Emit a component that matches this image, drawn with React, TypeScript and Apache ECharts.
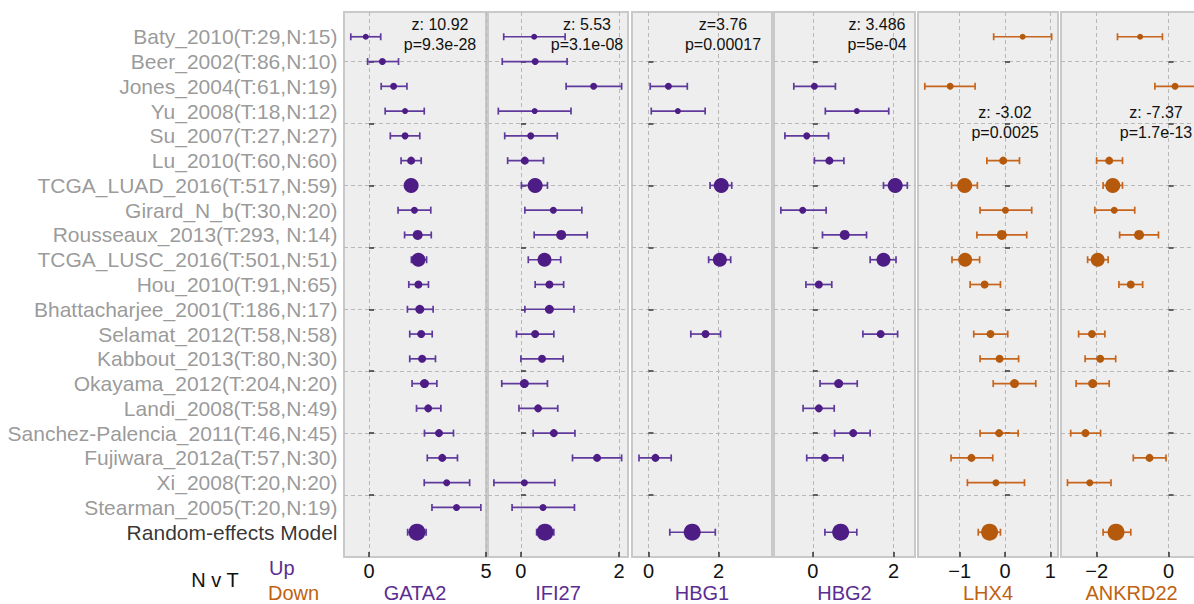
import React, { useEffect, useRef } from 'react';
import * as echarts from 'echarts';

const studies = [
  'Baty_2010(T:29,N:15)', 'Beer_2002(T:86,N:10)', 'Jones_2004(T:61,N:19)', 'Yu_2008(T:18,N:12)',
  'Su_2007(T:27,N:27)', 'Lu_2010(T:60,N:60)', 'TCGA_LUAD_2016(T:517,N:59)', 'Girard_N_b(T:30,N:20)',
  'Rousseaux_2013(T:293, N:14)', 'TCGA_LUSC_2016(T:501,N:51)', 'Hou_2010(T:91,N:65)',
  'Bhattacharjee_2001(T:186,N:17)', 'Selamat_2012(T:58,N:58)', 'Kabbout_2013(T:80,N:30)',
  'Okayama_2012(T:204,N:20)', 'Landi_2008(T:58,N:49)', 'Sanchez-Palencia_2011(T:46,N:45)',
  'Fujiwara_2012a(T:57,N:30)', 'Xi_2008(T:20,N:20)', 'Stearman_2005(T:20,N:19)', 'Random-effects Model',
];
const markerSizes = [6, 7, 7, 6, 7, 8, 15, 7, 10, 14, 8, 9, 8, 8, 9, 8, 8, 8, 7, 7, 17];

const genes = ['GATA2', 'IFI27', 'HBG1', 'HBG2', 'LHX4', 'ANKRD22'];
const direction = ['up', 'up', 'up', 'up', 'down', 'down'];
const zTexts = ['z: 10.92', 'z: 5.53', 'z=3.76', 'z: 3.486', 'z: -3.02', 'z: -7.37'];
const pTexts = ['p=9.3e-28', 'p=3.1e-08', 'p=0.00017', 'p=5e-04', 'p=0.0025', 'p=1.7e-13'];
const xTicks = [[0, 5], [0, 2], [0, 2], [0, 2], [-1, 0, 1], [-2, 0]];
const xMin = [-1.07, -0.67, -0.47, -0.96, -1.92, -2.99];
const xMax = [5.0, 2.18, 3.53, 2.53, 1.17, 0.93];

const N = null;
const gata2Mean = [-0.14, 0.57, 1.05, 1.54, 1.54, 1.8, 1.8, 1.94, 2.08, 2.11, 2.11, 2.17, 2.23, 2.27, 2.37, 2.53, 2.99, 3.13, 3.32, 3.74, 2.05];
const gata2Lo = [-0.78, -0.06, 0.52, 0.69, 0.91, 1.37, 1.62, 1.24, 1.52, 1.81, 1.7, 1.64, 1.74, 1.74, 1.84, 2.03, 2.37, 2.49, 2.36, 2.69, 1.65];
const gata2Hi = [0.5, 1.26, 1.62, 2.36, 2.17, 2.23, 2.0, 2.64, 2.66, 2.46, 2.54, 2.74, 2.7, 2.84, 2.9, 3.07, 3.61, 3.78, 4.3, 4.78, 2.44];

const ifi27Mean = [0.27, 0.29, 1.48, 0.28, 0.2, 0.08, 0.29, 0.66, 0.82, 0.48, 0.58, 0.58, 0.29, 0.43, 0.07, 0.35, 0.67, 1.55, 0.07, 0.45, 0.49];
const ifi27Lo = [-0.35, -0.38, 0.92, -0.46, -0.33, -0.27, 0.01, 0.08, 0.27, 0.15, 0.29, 0.08, -0.09, 0.0, -0.39, -0.04, 0.25, 1.05, -0.55, -0.18, 0.32];
const ifi27Hi = [0.9, 0.94, 2.05, 1.02, 0.74, 0.46, 0.54, 1.24, 1.35, 0.81, 0.87, 1.08, 0.67, 0.86, 0.54, 0.75, 1.1, 2.05, 0.69, 1.09, 0.67];

const hbg1Mean = [N, N, 0.57, 0.84, N, N, 2.08, N, N, 2.04, N, N, 1.63, N, N, N, N, 0.2, N, N, 1.25];
const hbg1Lo = [N, N, 0.05, 0.08, N, N, 1.76, N, N, 1.72, N, N, 1.21, N, N, N, N, -0.27, N, N, 0.61];
const hbg1Hi = [N, N, 1.11, 1.62, N, N, 2.38, N, N, 2.35, N, N, 2.06, N, N, N, N, 0.65, N, N, 1.91];

const hbg2Mean = [N, N, 0.04, 1.09, -0.15, 0.41, 2.04, -0.25, 0.79, 1.75, 0.15, N, 1.68, N, 0.64, 0.15, 1.0, 0.3, N, N, 0.69];
const hbg2Lo = [N, N, -0.47, 0.31, -0.69, 0.04, 1.75, -0.79, 0.24, 1.42, -0.17, N, 1.24, N, 0.18, -0.24, 0.54, -0.15, N, N, 0.3];
const hbg2Hi = [N, N, 0.56, 1.88, 0.39, 0.77, 2.34, 0.33, 1.33, 2.06, 0.47, N, 2.1, N, 1.1, 0.53, 1.42, 0.75, N, N, 1.09];

const lhx4Mean = [0.39, N, -1.21, N, N, -0.04, -0.89, 0.01, -0.07, -0.88, -0.45, N, -0.32, -0.12, 0.21, N, -0.13, -0.74, -0.2, N, -0.34];
const lhx4Lo = [-0.25, N, -1.77, N, N, -0.4, -1.18, -0.55, -0.62, -1.17, -0.77, N, -0.69, -0.55, -0.26, N, -0.55, -1.19, -0.83, N, -0.59];
const lhx4Hi = [1.03, N, -0.66, N, N, 0.32, -0.61, 0.59, 0.48, -0.56, -0.1, N, 0.06, 0.3, 0.68, N, 0.29, -0.27, 0.43, N, -0.1];

const ankrd22Mean = [-0.79, N, 0.18, N, N, -1.65, -1.55, -1.51, -0.82, -1.97, -1.05, N, -2.13, -1.9, -2.11, N, -2.31, -0.53, -2.19, N, -1.46];
const ankrd22Lo = [-1.42, N, -0.38, N, N, -2.0, -1.82, -2.05, -1.36, -2.25, -1.38, N, -2.5, -2.32, -2.57, N, -2.72, -0.98, -2.81, N, -1.82];
const ankrd22Hi = [-0.17, N, 0.75, N, N, -1.28, -1.28, -0.94, -0.28, -1.68, -0.72, N, -1.77, -1.47, -1.65, N, -1.89, -0.07, -1.6, N, -1.05];

const means = [gata2Mean, ifi27Mean, hbg1Mean, hbg2Mean, lhx4Mean, ankrd22Mean];
const los = [gata2Lo, ifi27Lo, hbg1Lo, hbg2Lo, lhx4Lo, ankrd22Lo];
const his = [gata2Hi, ifi27Hi, hbg1Hi, hbg2Hi, lhx4Hi, ankrd22Hi];

// layout
const gridLeft = [344, 488, 632, 774, 918, 1061];
const gridWidth = [142, 140, 140, 141, 140, 141];
const gridTop = 12;
const gridHeight = 545;
const statX = [440, 587, 723, 877, 1005, 1156];
const statY = [[24, 44], [24, 44], [24, 44], [24, 44], [112, 132], [112, 132]];

const FONT = '"Liberation Sans", Arial, Helvetica, sans-serif';
const colors = {
  up: { bar: '#5f3a9c', dot: '#4d1c85', text: '#5b2d91' },
  down: { bar: '#c7651c', dot: '#b55a0d', text: '#c0620f' },
};

const rowY = (i: number) => studies.length - i;
const fmt = (v: number) => (v < 0 ? '\u2212' + Math.abs(v) : String(v));

export default function App() {
  const ref = useRef<HTMLDivElement>(null);
  useEffect(() => {
    if (!ref.current) return;
    const chart = echarts.init(ref.current, undefined, { renderer: 'svg' });
    const grids: any[] = [];
    const xAxes: any[] = [];
    const yAxes: any[] = [];
    const series: any[] = [];
    const graphics: any[] = [];

    genes.forEach((g, k) => {
      const c = (colors as any)[direction[k]];
      grids.push({
        left: gridLeft[k], top: gridTop, width: gridWidth[k], height: gridHeight,
        containLabel: false, outerBoundsMode: 'none',
        show: true, backgroundColor: '#eeeeee', borderColor: '#c9c9c9', borderWidth: 2,
      });
      xAxes.push({
        type: 'value', gridIndex: k, min: xMin[k], max: xMax[k],
        name: g, nameLocation: 'middle', nameGap: 27, nameMoveOverlap: false,
        nameTextStyle: { color: c.text, fontSize: 20, lineHeight: 18, fontFamily: FONT },
        axisLine: { show: false },
        axisTick: { show: true, inside: true, length: 5, customValues: xTicks[k], lineStyle: { color: '#333', width: 1.5 } },
        axisLabel: { show: true, customValues: xTicks[k], formatter: fmt, color: '#111', fontSize: 20, lineHeight: 18, fontFamily: FONT, margin: 5 },
        splitLine: { show: true, lineStyle: { color: '#b8b8b8', type: [4, 3], width: 1 } },
      });
      yAxes.push({
        type: 'value', gridIndex: k, min: 0, max: 22,
        axisLine: { show: false },
        axisLabel: { show: false },
        axisTick: { show: true, inside: true, length: 5, customValues: [2.5, 5, 7.5, 10, 12.5, 15, 17.5, 20], lineStyle: { color: '#333', width: 1.5 } },
        splitLine: { show: true, lineStyle: { color: '#b8b8b8', type: [4, 3], width: 1 } },
      });
      const barData: any[] = [];
      const dotData: any[] = [];
      studies.forEach((s, i) => {
        const m = means[k][i];
        if (m === null || m === undefined) return;
        barData.push([los[k][i], his[k][i], rowY(i)]);
        dotData.push({ value: [m, rowY(i)], symbolSize: markerSizes[i] });
      });
      series.push({
        type: 'custom', xAxisIndex: k, yAxisIndex: k, data: barData, silent: true,
        encode: { x: [0, 1], y: 2 },
        renderItem: (params: any, api: any) => {
          const l = api.coord([api.value(0), api.value(2)]);
          const h = api.coord([api.value(1), api.value(2)]);
          const cap = 3.5;
          const st = { stroke: c.bar, lineWidth: 1.7 };
          return {
            type: 'group',
            children: [
              { type: 'line', shape: { x1: l[0], y1: l[1], x2: h[0], y2: h[1] }, style: st },
              { type: 'line', shape: { x1: l[0], y1: l[1] - cap, x2: l[0], y2: l[1] + cap }, style: st },
              { type: 'line', shape: { x1: h[0], y1: h[1] - cap, x2: h[0], y2: h[1] + cap }, style: st },
            ],
          };
        },
        z: 2,
      });
      series.push({
        type: 'scatter', xAxisIndex: k, yAxisIndex: k, data: dotData, silent: true,
        symbol: 'circle', itemStyle: { color: c.dot, opacity: 1 }, z: 3,
      });
      graphics.push({
        type: 'text', x: statX[k], y: statY[k][0],
        style: { text: zTexts[k], fill: '#111', font: `16px ${FONT}`, textAlign: 'center', textVerticalAlign: 'middle' },
        z: 10,
      });
      graphics.push({
        type: 'text', x: statX[k], y: statY[k][1],
        style: { text: pTexts[k], fill: '#111', font: `16px ${FONT}`, textAlign: 'center', textVerticalAlign: 'middle' },
        z: 10,
      });
    });

    // study labels
    series.push({
      type: 'scatter', xAxisIndex: 0, yAxisIndex: 0, silent: true, symbolSize: 1,
      itemStyle: { color: 'transparent' },
      data: studies.map((s, i) => ({
        value: [xMin[0], rowY(i)], name: s,
        label: { color: i === studies.length - 1 ? '#000' : '#808080' },
      })),
      label: { show: true, position: 'left', distance: 6, formatter: '{b}', fontSize: 21, fontFamily: FONT },
      z: 5,
    });

    graphics.push({ type: 'text', x: 215, y: 580, style: { text: 'N v T', fill: '#111', font: `20px ${FONT}`, textAlign: 'center', textVerticalAlign: 'middle' } });
    graphics.push({ type: 'text', x: 269, y: 568, style: { text: 'Up', fill: colors.up.text, font: `20px ${FONT}`, textAlign: 'left', textVerticalAlign: 'middle' } });
    graphics.push({ type: 'text', x: 268, y: 593, style: { text: 'Down', fill: colors.down.text, font: `20px ${FONT}`, textAlign: 'left', textVerticalAlign: 'middle' } });

    chart.setOption({
      animation: false,
      backgroundColor: '#ffffff',
      grid: grids,
      xAxis: xAxes,
      yAxis: yAxes,
      series,
      graphic: graphics,
    });
    return () => chart.dispose();
  }, []);
  return (
    <div style={{ position: 'fixed', left: 0, top: 0, width: 1194, height: 604, overflow: 'hidden', background: '#fff' }}>
      <div ref={ref} style={{ width: 1215, height: 604 }} />
    </div>
  );
}
